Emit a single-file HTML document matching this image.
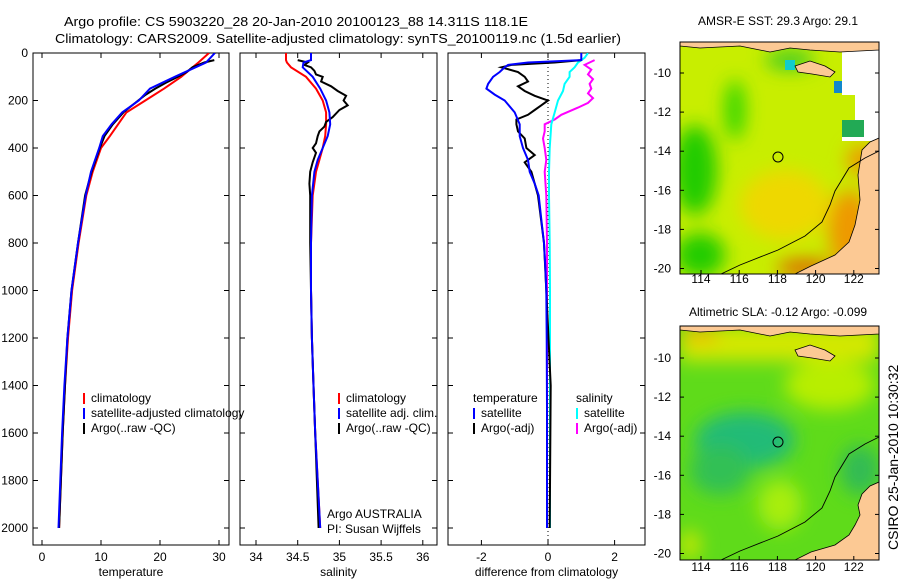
<!DOCTYPE html>
<html><head><meta charset="utf-8"><style>
body{margin:0;background:#fff}
svg text{font-family:"Liberation Sans",sans-serif;font-size:12px;fill:#000}
</style></head><body>
<svg id="s" width="900" height="580" viewBox="0 0 900 580">
<defs>
<filter id="bl" x="-50%" y="-50%" width="200%" height="200%"><feGaussianBlur stdDeviation="9"/></filter>
<clipPath id="c1"><rect x="680" y="42" width="199" height="232"/></clipPath>
<clipPath id="c2"><rect x="680" y="326" width="199" height="234"/></clipPath>
<clipPath id="cp"><rect x="33" y="53" width="612" height="492"/></clipPath>
</defs>
<text x="64" y="26" style="font-size:13px" textLength="464" lengthAdjust="spacingAndGlyphs">Argo profile: CS 5903220_28 20-Jan-2010 20100123_88 14.311S 118.1E</text>
<text x="55" y="43" style="font-size:13px" textLength="566" lengthAdjust="spacingAndGlyphs">Climatology: CARS2009. Satellite-adjusted climatology: synTS_20100119.nc (1.5d earlier)</text>

<g id="panels"></g>

<!-- Map 1 SST -->
<g>
<g clip-path="url(#c1)">
<rect x="680" y="42" width="199" height="232" fill="#c8ee00"/>
<g filter="url(#bl)">
<ellipse cx="695" cy="170" rx="22" ry="45" fill="#22cc00"/>
<ellipse cx="735" cy="110" rx="10" ry="30" fill="#33d600"/>
<ellipse cx="700" cy="255" rx="25" ry="22" fill="#22cc00"/>
<ellipse cx="785" cy="205" rx="45" ry="35" fill="#eed800"/>
<ellipse cx="850" cy="230" rx="22" ry="40" fill="#ee9900"/>
<ellipse cx="805" cy="268" rx="28" ry="9" fill="#dd6600"/>
<ellipse cx="862" cy="160" rx="15" ry="15" fill="#ee9900"/>
<ellipse cx="790" cy="60" rx="25" ry="10" fill="#44cc22"/>
</g>
<polygon points="842,50 879,50 879,141 842,141 842,120 855,120 855,95 842,95" fill="#fff"/>
<rect x="842" y="120" width="22" height="17" fill="#22aa55"/>
<rect x="834" y="81" width="8" height="12" fill="#1188cc"/>
<rect x="785" y="60" width="10" height="10" fill="#11cccc"/>
<polygon points="680,42 879,42 879,50 840,52 810,50 790,48 770,52 740,46 700,48 680,46" fill="#fcc994" stroke="#000" stroke-width="0.8"/>
<polygon points="795,66 810,61 825,66 835,72 830,77 812,74 798,72" fill="#fcc994" stroke="#000" stroke-width="0.8"/>
<polygon points="879,138 870,142 862,150 858,175 860,200 855,225 849,242 835,255 811,266 795,274 879,274" fill="#fcc994" stroke="#000" stroke-width="0.8"/>
<polyline points="721,274 740,265 778,250 805,236 822,222 830,205 835,191 849,168 865,158 879,151" fill="none" stroke="#000" stroke-width="0.9"/>
<circle cx="778" cy="157" r="5" fill="none" stroke="#000"/>
</g>
<rect x="680" y="42" width="199" height="232" fill="none" stroke="#000"/>
</g>
<text x="778" y="25" text-anchor="middle">AMSR-E SST: 29.3 Argo: 29.1</text>

<!-- Map 2 SLA -->
<g>
<g clip-path="url(#c2)">
<rect x="680" y="326" width="199" height="234" fill="#5fdb1a"/>
<g filter="url(#bl)">
<rect x="680" y="326" width="199" height="35" fill="#d4e800"/>
<ellipse cx="830" cy="385" rx="45" ry="25" fill="#b8ee00"/>
<ellipse cx="745" cy="440" rx="50" ry="28" fill="#22bb77"/>
<ellipse cx="720" cy="470" rx="30" ry="25" fill="#33c055"/>
<ellipse cx="780" cy="505" rx="22" ry="25" fill="#a8ee10"/>
<ellipse cx="860" cy="470" rx="20" ry="25" fill="#33bb55"/>
<ellipse cx="690" cy="545" rx="10" ry="15" fill="#c8e800"/>
<ellipse cx="700" cy="335" rx="20" ry="8" fill="#eebb00"/>
</g>
<polygon points="680,326 879,326 879,334 840,336 810,334 790,332 770,336 740,330 700,332 680,330" fill="#fcc994" stroke="#000" stroke-width="0.8"/>
<polygon points="795,350 810,345 825,350 835,356 830,361 812,358 798,356" fill="#fcc994" stroke="#000" stroke-width="0.8"/>
<polygon points="879,482 870,486 862,494 858,505 860,515 855,525 849,535 835,545 811,552 795,560 879,560" fill="#fcc994" stroke="#000" stroke-width="0.8"/>
<polyline points="721,560 740,551 778,536 805,522 822,508 830,491 835,477 849,454 865,444 879,437" fill="none" stroke="#000" stroke-width="0.9"/>
<circle cx="778" cy="442" r="5" fill="none" stroke="#000"/>
</g>
<rect x="680" y="326" width="199" height="234" fill="none" stroke="#000"/>
</g>
<text x="778" y="316" text-anchor="middle">Altimetric SLA: -0.12 Argo: -0.099</text>
<g id="mapticks"></g>
<text transform="translate(898,550) rotate(-90)" style="font-size:14px">CSIRO 25-Jan-2010 10:30:32</text>
</svg>
<script>
// ---- data ----
const depthTicks=[0,200,400,600,800,1000,1200,1400,1600,1800,2000];
const tempTicks=[0,10,20,30];
const salTicks=[34,34.5,35,35.5,36];
const diffTicks=[-2,0,2];

const climDepth=[0,40,100,150,200,250,300,350,400,500,600,800,1000,1200,1400,1600,1800,2000];
const tempClim=[28.3,26.5,23.6,20.7,17.5,14.3,12.9,11.5,10.0,8.6,7.5,6.2,5.1,4.4,3.9,3.5,3.2,2.9];
const tempSat=[29.3,27.8,22.5,18.3,16.4,13.6,11.8,10.3,9.7,8.3,7.4,6.1,5.0,4.3,3.8,3.4,3.1,2.8];
const argoTDepth=[30,40,60,80,100,125,150,175,200,250,300,350,400,500,600,800,1000,1200,1400,1600,1800,2000];
const tempArgo=[29.2,27.5,25.5,24.5,23.0,21.0,19.2,17.6,16.3,13.8,12.0,10.6,9.8,8.4,7.3,6.1,5.0,4.3,3.9,3.5,3.2,2.9];

const salDepth=[0,30,40,60,100,150,200,250,300,350,400,450,500,600,800,1000,1200,1400,1600,1800,2000];
const salClim=[34.36,34.36,34.37,34.42,34.6,34.72,34.8,34.84,34.84,34.83,34.8,34.76,34.72,34.68,34.66,34.66,34.67,34.69,34.71,34.74,34.77];
const salSat=[34.66,34.66,34.57,34.56,34.68,34.77,34.84,34.88,34.89,34.86,34.8,34.74,34.7,34.67,34.66,34.66,34.67,34.69,34.71,34.74,34.77];
const argoSDepth=[30,40,50,60,75,90,100,120,140,160,180,200,220,240,270,290,310,330,350,380,400,420,460,500,550,600,800,1000,1200,1400,1600,1800,2000];
const salArgo=[34.5,34.62,34.58,34.66,34.7,34.72,34.8,34.78,34.9,34.98,35.08,35.05,35.1,35.0,34.92,34.84,34.82,34.76,34.74,34.72,34.68,34.72,34.68,34.65,34.64,34.65,34.65,34.66,34.67,34.69,34.71,34.73,34.75];

const dTSatDepth=[0,30,40,50,60,80,100,130,150,175,200,250,300,350,400,450,500,550,600,700,800,900,1000,1200,1500,2000];
const dTSat=[1.0,1.0,-0.6,-1.2,-1.3,-1.45,-1.65,-1.8,-1.85,-1.6,-1.3,-1.0,-0.85,-0.85,-0.75,-0.6,-0.55,-0.4,-0.28,-0.2,-0.12,-0.08,-0.05,-0.04,-0.03,-0.03];
const dTArgoDepth=[30,40,50,60,80,100,120,140,160,180,200,220,240,260,280,300,330,360,400,430,460,500,600,800,1000,1400,2000];
const dTArgo=[1.0,0.2,-1.1,-1.4,-0.9,-0.7,-0.6,-0.9,-0.7,-0.4,0,-0.2,-0.4,-0.6,-0.95,-0.95,-0.9,-0.7,-0.65,-0.4,-0.7,-0.5,-0.3,-0.12,-0.05,0.08,0.05];
const dSSatDepth=[0,20,40,60,80,100,130,160,200,250,300,400,500,600,800,1000,2000];
const dSSat=[1.2,1.1,0.9,0.8,0.65,0.65,0.5,0.45,0.3,0.2,0.1,0.05,0.03,0.03,0.05,0.06,0.06];
const dSArgoDepth=[30,50,70,90,110,130,150,170,190,210,230,260,280,300,330,360,400,450,500,600,800,1000,2000];
const dSArgo=[1.4,1.1,1.3,1.2,1.35,1.25,1.3,1.2,1.35,1.2,0.9,0.4,0.2,-0.1,-0.1,-0.15,-0.1,-0.05,-0.1,-0.05,-0.03,-0.03,-0.03];

const latTicks=[-10,-12,-14,-16,-18,-20];
const lonTicks=[114,116,118,120,122];

// ---- scales ----
const NS='http://www.w3.org/2000/svg';
const yD=d=>53+d*0.2375;
const P=[
 {x0:33,x1:229,sx:v=>42+v*5.9},
 {x0:240,x1:437,sx:v=>256+(v-34)*83.4},
 {x0:448,x1:645,sx:v=>548+v*33.3}
];
const G=document.getElementById('panels');
function mk(tag,attrs,parent){const e=document.createElementNS(NS,tag);for(const k in attrs)e.setAttribute(k,attrs[k]);(parent||G).appendChild(e);return e;}
function txt(x,y,s,anchor,parent){const t=mk('text',{x:x,y:y,'text-anchor':anchor||'start'},parent);t.textContent=s;return t;}

const names=['temperature-panel','salinity-panel','difference-panel'];
const tickSets=[tempTicks,salTicks,diffTicks];
const titles=['temperature','salinity','difference from climatology'];
P.forEach((p,i)=>{
 const g=mk('g',{});
 
 
 mk('rect',{x:p.x0,y:53,width:p.x1-p.x0,height:492,fill:'#fff',stroke:'#000'},g);
 depthTicks.forEach(d=>{
  mk('line',{x1:p.x0,x2:p.x0+5,y1:yD(d),y2:yD(d),stroke:'#000'},g);
  mk('line',{x1:p.x1,x2:p.x1-5,y1:yD(d),y2:yD(d),stroke:'#000'},g);
  if(i===0){const t=txt(28,yD(d)+4,String(d),'end',g);
   
   }
 });
 tickSets[i].forEach(v=>{
  const x=p.sx(v);
  mk('line',{x1:x,x2:x,y1:545,y2:540,stroke:'#000'},g);
  mk('line',{x1:x,x2:x,y1:53,y2:58,stroke:'#000'},g);
  const t=txt(x,561,String(v),'middle',g);
  
  
 });
 const at=txt((p.x0+p.x1)/2,576,titles[i],'middle',g);
 
 
});
// zero line
const zl=mk('line',{x1:P[2].sx(0),x2:P[2].sx(0),y1:55,y2:540,stroke:'#000','stroke-dasharray':'1,3'});



const lines=mk('g',{'clip-path':'url(#cp)'});
function series(p,depths,vals,color,name,w){
 const pts=depths.map((d,k)=>p.sx(vals[k]).toFixed(1)+','+yD(d).toFixed(1)).join(' ');
 const l=mk('polyline',{points:pts,fill:'none',stroke:color,'stroke-width':w||2},lines);
 
 
}
series(P[0],climDepth,tempClim,'#f00','temp-climatology-line');
series(P[0],argoTDepth,tempArgo,'#000','temp-argo-line');
series(P[0],climDepth,tempSat,'#00f','temp-satellite-line');
series(P[1],salDepth,salClim,'#f00','sal-climatology-line');
series(P[1],argoSDepth,salArgo,'#000','sal-argo-line');
series(P[1],salDepth,salSat,'#00f','sal-satellite-line');
series(P[2],dSArgoDepth,dSArgo,'#f0f','diff-sal-argo-line');
series(P[2],dSSatDepth,dSSat,'#0ff','diff-sal-satellite-line');
series(P[2],dTArgoDepth,dTArgo,'#000','diff-temp-argo-line');
series(P[2],dTSatDepth,dTSat,'#00f','diff-temp-satellite-line');

// legends
function legend(x,y,items,name){
 const g=mk('g',{});
 
 
 items.forEach((it,k)=>{
  if(it[0]) mk('rect',{x:x,y:y+k*15-9,width:2,height:11,fill:it[0]},g);
  txt(x+(it[0]?8:0),y+k*15,it[1],'start',g);
 });
}
legend(83,402,[['#f00','climatology'],['#00f','satellite-adjusted climatology'],['#000','Argo(..raw -QC)']],'temperature-legend');
legend(338,402,[['#f00','climatology'],['#00f','satellite adj. clim.'],['#000','Argo(..raw -QC)']],'salinity-legend');
legend(473,402,[[null,'temperature'],['#00f','satellite'],['#000','Argo(-adj)']],'diff-temp-legend');
legend(576,402,[[null,'  salinity'],['#0ff','satellite'],['#f0f','Argo(-adj)']],'diff-sal-legend');
const a1=txt(327,518,'Argo AUSTRALIA');


const a2=txt(327,533,'PI: Susan Wijffels');


// map ticks
const MT=document.getElementById('mapticks');
[[73,42,274,283],[358,326,560,571]].forEach(([y10,top,bot,ly])=>{
 latTicks.forEach(v=>{
  const y=y10+(-10-v)*19.55;
  mk('line',{x1:680,x2:684,y1:y,y2:y,stroke:'#000'},MT);
  mk('line',{x1:879,x2:875,y1:y,y2:y,stroke:'#000'},MT);
  const t=txt(671,y+4,String(v),'end',MT);
  
  
 });
 lonTicks.forEach(v=>{
  const x=701+(v-114)*19.1;
  mk('line',{x1:x,x2:x,y1:bot,y2:bot-4,stroke:'#000'},MT);
  const t=txt(x,ly,String(v),'middle',MT);
  
  
 });
});
</script>
</body></html>
